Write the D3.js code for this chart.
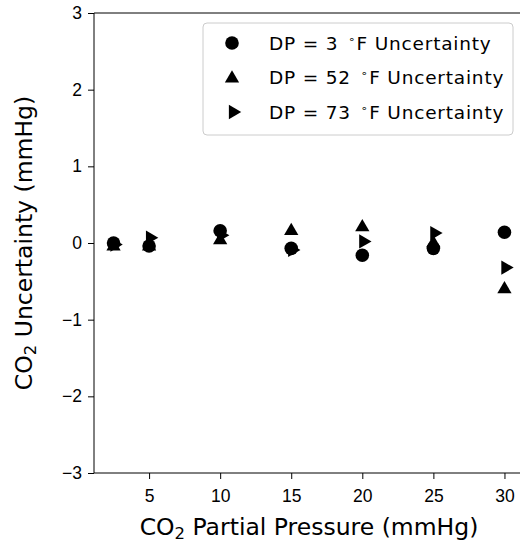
<!DOCTYPE html>
<html>
<head>
<meta charset="utf-8">
<script src="https://cdn.jsdelivr.net/npm/d3@7"></script>
<style>
  body { margin: 0; background: #fff; }
  svg { display: block; font-family: "DejaVu Sans", sans-serif; }
</style>
</head>
<body>
<div id="chart"></div>
<script>
// CO2 partial pressure (mmHg)
const pressures = [2.5, 5, 10, 15, 20, 25, 30];
// uncertainty per dew point (mmHg)
const dp3 = [0.0, -0.04, 0.16, -0.07, -0.16, -0.07, 0.14];
const dp52 = [-0.03, -0.03, 0.05, 0.17, 0.22, 0.01, -0.59];
const dp73 = [-0.02, 0.07, 0.1, -0.09, 0.02, 0.13, -0.32];
const dpLabels = ['3', '52', '73'];
const xTicks = [5, 10, 15, 20, 25, 30];
const yTicks = [-3, -2, -1, 0, 1, 2, 3];

const width = 520, height = 542;
const svg = d3.select('#chart').append('svg')
    .attr('width', width)
    .attr('height', height);

// axes box (right side runs past the image edge)
const x = d3.scaleLinear().domain([1.125, 31.375]).range([94, 524]);
const y = d3.scaleLinear().domain([-3, 3]).range([473, 13]);

// 축
const xAxis = svg.append('g')
    .attr('transform', `translate(0,${y(-3)})`)
    .call(d3.axisBottom(x).tickValues(xTicks).tickSize(6).tickPadding(11).tickFormat(d3.format('d')));
const yAxis = svg.append('g')
    .attr('transform', `translate(${x.range()[0]},0)`)
    .call(d3.axisLeft(y).tickValues(yTicks).tickSize(6).tickPadding(6)
        .tickFormat(d => d < 0 ? '\u2212' + Math.abs(d) : d));

[xAxis, yAxis].forEach(a => {
    a.select('.domain').remove();
    a.selectAll('line').attr('stroke', '#000').attr('stroke-width', 1);
    a.selectAll('text').attr('fill', '#000').style('font-size', '17.5px');
});

// spines
svg.append('line').attr('x1', 94).attr('x2', 524).attr('y1', 13).attr('y2', 13)
    .attr('stroke', '#000').attr('stroke-width', 1);
svg.append('line').attr('x1', 94).attr('x2', 524).attr('y1', 473).attr('y2', 473)
    .attr('stroke', '#000').attr('stroke-width', 1);
svg.append('line').attr('x1', 94).attr('x2', 94).attr('y1', 13).attr('y2', 473)
    .attr('stroke', '#000').attr('stroke-width', 1);

// markers
const circleSym = d3.symbol().type(d3.symbolCircle).size(145);
const triSym = d3.symbol().type(d3.symbolTriangle).size(88);

function drawMarker(g, kind, cx, cy) {
    if (kind === 0) {
        g.append('path').attr('d', circleSym()).attr('transform', `translate(${cx},${cy})`);
    } else if (kind === 1) {
        g.append('path').attr('d', triSym()).attr('transform', `translate(${cx},${cy + 1})`);
    } else {
        g.append('path').attr('d', triSym()).attr('transform', `translate(${cx + 1},${cy}) rotate(90)`);
    }
}

const series = [dp3, dp52, dp73];
const plot = svg.append('g').attr('fill', '#000');
series.forEach((vals, k) => {
    vals.forEach((v, i) => drawMarker(plot, k, x(pressures[i]), y(v)));
});

// 범례
const legend = svg.append('g');
legend.append('rect')
    .attr('x', 203).attr('y', 23).attr('width', 310).attr('height', 112)
    .attr('rx', 4)
    .attr('fill', '#fff').attr('fill-opacity', 0.8)
    .attr('stroke', '#ccc').attr('stroke-width', 1);

dpLabels.forEach((t, k) => {
    const ly = 43 + k * 34.5;
    drawMarker(legend.append('g').attr('fill', '#000'), k, 232, ly);
    const txt = legend.append('text')
        .attr('x', 269).attr('y', ly + 6.5)
        .attr('fill', '#000')
        .style('font-size', '18.5px')
        .style('letter-spacing', '0.8px');
    txt.append('tspan').text(`DP = ${t} `);
    txt.append('tspan').attr('dy', -7).attr('dx', 3).style('font-size', '11px').text('\u2218');
    txt.append('tspan').attr('dy', 7).attr('dx', 1).text('F Uncertainty');
});

// axis labels
const xl = svg.append('text')
    .attr('x', 309).attr('y', 535)
    .attr('text-anchor', 'middle')
    .attr('fill', '#000')
    .style('font-size', '23.5px');
xl.append('tspan').text('CO');
xl.append('tspan').attr('dy', 3.5).style('font-size', '16.5px').text('2');
xl.append('tspan').attr('dy', -3.5).text(' Partial Pressure (mmHg)');

const yl = svg.append('text')
    .attr('transform', `translate(32,243) rotate(-90)`)
    .attr('text-anchor', 'middle')
    .attr('fill', '#000')
    .style('font-size', '23.5px');
yl.append('tspan').text('CO');
yl.append('tspan').attr('dy', 4).style('font-size', '16.5px').text('2');
yl.append('tspan').attr('dy', -4).text(' Uncertainty (mmHg)');
</script>
</body>
</html>
